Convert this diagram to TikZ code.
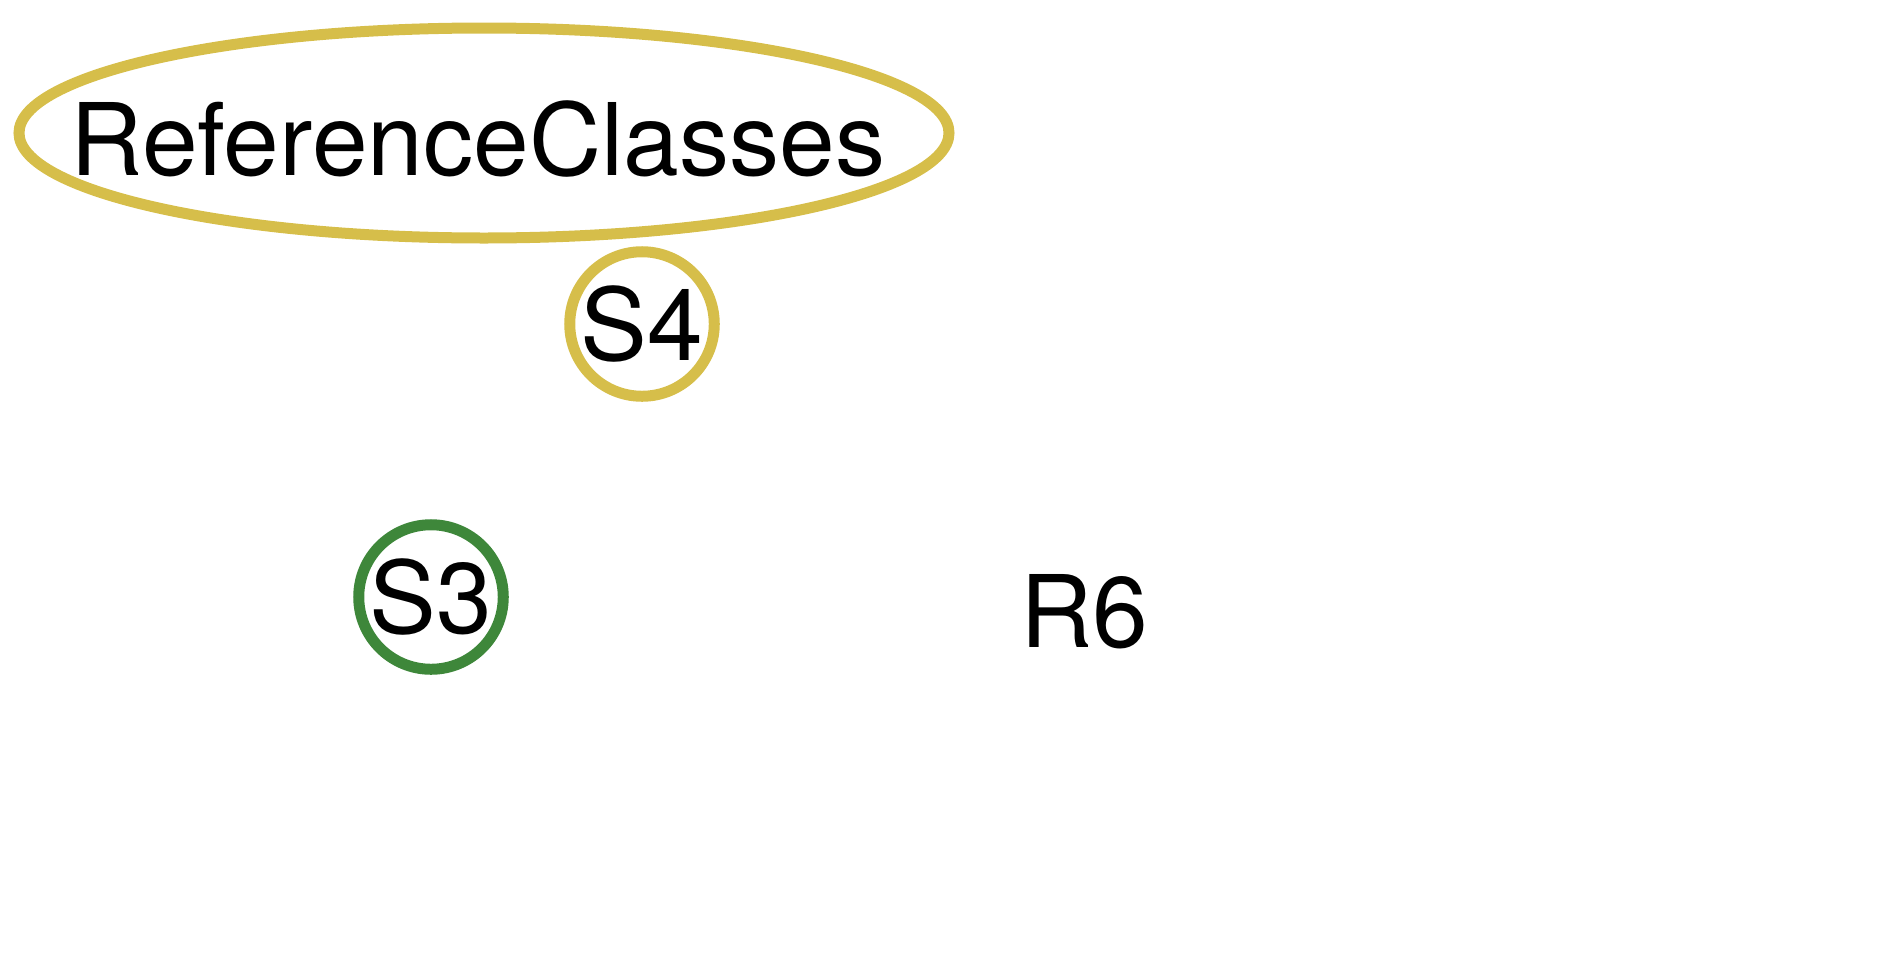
\documentclass[tikz,border=0pt]{standalone}
\usepackage{fontspec}
\setmainfont{TeX Gyre Heros}
\usepackage{tikz}
\usetikzlibrary{shapes,positioning}
\usepackage{xcolor}
\definecolor{pkgyellow}{RGB}{214,190,74}
\definecolor{pkggreen}{RGB}{62,135,58}

\begin{document}
\begin{tikzpicture}[
    label text/.style={font=\fontsize{28.5}{34}\selectfont, inner sep=0pt},
    pkg ring/.style={draw=#1, line width=0.11cm, circle, minimum size=1.39cm, inner sep=0pt, label text}
  ]
    \useasboundingbox (0,0) rectangle (19,-9.7);
    \node[draw=pkgyellow, line width=0.11cm, ellipse, minimum width=9.3cm, minimum height=2.1cm] (refcls) at (4.84,-1.33) {};
    \node[label text, text height=0.72cm, text depth=0pt] (refclstxt) at (4.78,-1.39) {ReferenceClasses};
    \node[pkg ring=pkgyellow] (sfour) at (6.42,-3.24) {S4};
    \node[pkg ring=pkggreen] (sthree) at (4.31,-5.97) {S3};
    \node[label text] (rsix) at (10.84,-6.12) {R6};
\end{tikzpicture}
\end{document}
